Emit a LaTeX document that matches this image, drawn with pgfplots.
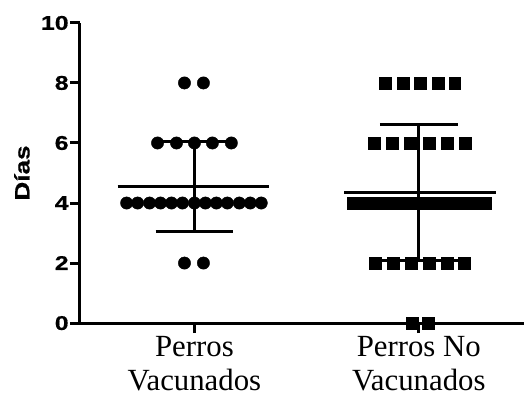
\documentclass[border=0pt]{standalone}
\usepackage{pgfplots}
\pgfplotsset{compat=1.18}
\usepackage{fontspec}
\setmainfont{Liberation Serif}
\newfontfamily\widefont[FakeStretch=1.25,FakeBold=0.6]{Liberation Sans}
\begin{document}
\begin{tikzpicture}
\begin{axis}[
  at={(0,0)}, anchor=south west,
  scale only axis, width=445bp, height=301bp,
  xmin=80, xmax=525, ymin=0, ymax=10,
  axis lines=left,
  axis line style={-, line width=3bp, black},
  ytick={0,2,4,6,8,10},
  xtick={195,420},
  xticklabels={Perros\\Vacunados, Perros No\\Vacunados},
  tick align=outside,
  major tick length=10bp,
  tick style={line width=3bp, black},
  clip=false,
  /pgf/number format/assume math mode=true,
  yticklabel style={font=\widefont\bfseries\fontsize{20}{24}\selectfont, inner sep=1bp},
  xticklabel style={font=\fontsize{31}{34}\selectfont, align=center, anchor=north, inner sep=0bp, yshift=-3bp},
  ylabel={Días},
  ylabel style={font=\widefont\bfseries\fontsize{21}{25}\selectfont, at={(axis description cs:0,0.5)}, anchor=center, yshift=58bp},
]
% Group 1 mean and SD
\addplot[black, line width=3bp] coordinates {(118,4.55) (270,4.55)};
\addplot[black, line width=3bp] coordinates {(195,3.06) (195,6.04)};
\addplot[black, line width=3bp] coordinates {(156,3.06) (234,3.06)};
\addplot[black, line width=3bp] coordinates {(156,6.04) (234,6.04)};
% Group 2 mean and SD
\addplot[black, line width=3bp] coordinates {(345,4.35) (497,4.35)};
\addplot[black, line width=3bp] coordinates {(420,2.09) (420,6.61)};
\addplot[black, line width=3bp] coordinates {(381,6.61) (459,6.61)};
\addplot[black, line width=3bp] coordinates {(381,2.09) (459,2.09)};
% Perros Vacunados
\addplot[only marks, mark=*, mark size=6.2bp, black] coordinates {
  (185,8) (204,8)
  (158,6) (177,6) (195,6) (213,6) (232,6)
  (127,4) (138,4) (150,4) (161,4) (172,4) (183,4) (195,4) (206,4) (217,4) (228,4) (240,4) (251,4) (262,4)
  (185,2) (204,2)
};
% Perros No Vacunados
\addplot[only marks, mark=square*, mark size=6bp, black] coordinates {
  (386,8) (404,8) (421,8) (439,8) (456,8)
  (375,6) (393,6) (411,6) (430,6) (448,6) (467,6)
  (354,4) (361,4) (368,4) (375,4) (382,4) (389,4) (396,4) (403,4) (410,4) (417,4)
  (424,4) (431,4) (438,4) (445,4) (452,4) (459,4) (466,4) (473,4) (480,4) (487,4)
  (376,2) (394,2) (412,2) (430,2) (448,2) (466,2)
  (413,0) (429,0)
};
\end{axis}
\path[use as bounding box] (-80bp,-72bp) rectangle (445bp,324bp);
\end{tikzpicture}
\end{document}
